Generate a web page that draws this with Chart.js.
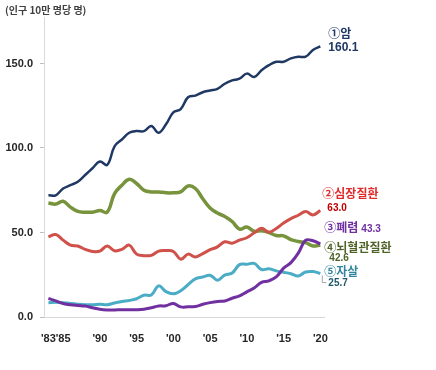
<!DOCTYPE html>
<html>
<head>
<meta charset="utf-8">
<script src="https://cdn.jsdelivr.net/npm/chart.js@4"></script>
<style>
  html, body { margin: 0; padding: 0; background: #fff; }
  #wrap { position: relative; width: 436px; height: 370px; }
  #unit { position: absolute; left: 5px; top: 2px; font: bold 10px "Noto Sans CJK KR", sans-serif; color: #404040; }
</style>
</head>
<body>
<div id="wrap">
  <canvas id="chart" width="436" height="370"></canvas>
  <div id="unit">(인구 10만 명당 명)</div>
</div>
<script>
const years = [1983, 1984, 1985, 1986, 1987, 1988, 1989, 1990, 1991, 1992,
  1993, 1994, 1995, 1996, 1997, 1998, 1999, 2000, 2001, 2002,
  2003, 2004, 2005, 2006, 2007, 2008, 2009, 2010, 2011, 2012,
  2013, 2014, 2015, 2016, 2017, 2018, 2019, 2020];

const cancer = [72, 72, 76, 78, 80, 84, 88, 92, 90, 101,
  105, 109, 110, 110, 113, 109, 114, 121, 123, 130,
  131, 133, 134, 135, 138, 140, 141, 144, 142, 146,
  149, 151, 151, 153, 154, 154, 158, 160.1];

const heart = [47.5, 48.8, 45.5, 42.5, 42, 40, 38.8, 39, 42, 39.2,
  40, 42.5, 37.2, 36.3, 36.5, 39, 39.3, 38.8, 34.2, 37.2,
  35.5, 37.5, 39.8, 41.5, 44.5, 43.7, 45.5, 46.9, 49.8, 52.5,
  50.2, 52.4, 55.6, 58.2, 60.2, 62.4, 60.4, 63.0];

const pneumonia = [11, 9.5, 8, 7.2, 6.8, 6.5, 5.5, 4.6, 4.2, 4.2,
  4.3, 4.3, 4.3, 4.6, 5.5, 6.5, 6.7, 8.0, 6.0, 6.0,
  6.2, 7.5, 8.5, 9.2, 9.5, 11.1, 12.5, 14.9, 17.2, 20.5,
  21.4, 23.7, 28.9, 32.2, 37.8, 45.4, 45.1, 43.3];

const stroke = [67.5, 66.8, 68.5, 65, 62.5, 62, 62, 63, 62, 73,
  78, 81.5, 79, 75, 74, 74, 73.5, 73.5, 74, 77.5,
  76, 70, 64.5, 61.5, 59.5, 56.5, 52, 53.2, 50.7, 51,
  50, 48.2, 48, 45.8, 44.7, 44, 42, 42.6];

const suicide = [8.5, 8.7, 8.5, 8, 7.6, 7.3, 7.2, 7.6, 7.3, 8.3,
  9.2, 9.8, 10.8, 12.9, 13, 18.4, 15, 13.7, 15.5, 19.1,
  22.6, 23.7, 24.7, 21.8, 24.8, 26.0, 31.0, 31.2, 31.7, 28.1,
  28.5, 27.3, 26.5, 25.6, 24.3, 26.6, 26.9, 25.7];

const xTickYears = [1983, 1985, 1990, 1995, 2000, 2005, 2010, 2015, 2020];
const xTickLabels = ["'83", "'85", "'90", "'95", "'00", "'05", "'10", "'15", "'20"];
const yTickValues = [0, 50, 100, 150];

const names = ['①암', '②심장질환', '③폐렴', '④뇌혈관질환', '⑤자살'];
const lastValues = ['160.1', '63.0', '43.3', '42.6', '25.7'];

function pts(arr) {
  return arr.map((v, i) => ({ x: years[i], y: v }));
}

function line(data, color, width) {
  return { data: pts(data), borderColor: color, borderWidth: width, pointRadius: 0, tension: 0.4, fill: false };
}

// end labels, offsets from the last point of each series
const endLabels = [
  { ds: 0, text: names[0], dx: 8, dy: -13, color: '#1f3864', font: 'bold 12px "Noto Sans CJK KR", sans-serif' },
  { ds: 0, text: lastValues[0], dx: 8, dy: 1, color: '#1f3864', font: 'bold 12px "Liberation Sans", sans-serif' },
  { ds: 1, text: names[1], dx: 2, dy: -17, color: '#e02b2b', font: 'bold 12px "Noto Sans CJK KR", sans-serif' },
  { ds: 1, text: lastValues[1], dx: 7, dy: -2, color: '#c00000', font: 'bold 10px "Liberation Sans", sans-serif' },
  { ds: 2, text: names[2], dx: 4, dy: -16, color: '#7030a0', font: 'bold 12px "Noto Sans CJK KR", sans-serif' },
  { ds: 2, text: lastValues[2], dx: 41, dy: -15, color: '#7030a0', font: 'bold 10px "Liberation Sans", sans-serif' },
  { ds: 3, text: names[3], dx: 4, dy: 2, color: '#4f6228', font: 'bold 12px "Noto Sans CJK KR", sans-serif' },
  { ds: 3, text: lastValues[3], dx: 9, dy: 13, color: '#4f6228', font: 'bold 10px "Liberation Sans", sans-serif' },
  { ds: 4, text: names[4], dx: 4, dy: -2, color: '#31859c', font: 'bold 12px "Noto Sans CJK KR", sans-serif' },
  { ds: 4, text: lastValues[4], dx: 8, dy: 10, color: '#215968', font: 'bold 10px "Liberation Sans", sans-serif' }
];

const endLabelPlugin = {
  id: 'endLabels',
  afterDatasetsDraw(chart) {
    const ctx = chart.ctx;
    ctx.save();
    // small leader for the suicide value
    const sm = chart.getDatasetMeta(4);
    const sp = sm.data[sm.data.length - 1];
    ctx.strokeStyle = '#a6a6a6';
    ctx.lineWidth = 1;
    ctx.beginPath();
    ctx.moveTo(sp.x + 2, sp.y + 2);
    ctx.lineTo(sp.x + 2, sp.y + 9);
    ctx.lineTo(sp.x + 6, sp.y + 9);
    ctx.stroke();

    ctx.textAlign = 'left';
    ctx.textBaseline = 'middle';
    endLabels.forEach(l => {
      const meta = chart.getDatasetMeta(l.ds);
      const p = meta.data[meta.data.length - 1];
      ctx.font = l.font;
      ctx.fillStyle = l.color;
      ctx.fillText(l.text, p.x + l.dx, p.y + l.dy);
    });
    ctx.restore();
  }
};

new Chart(document.getElementById('chart'), {
  type: 'line',
  data: {
    datasets: [
      line(cancer, '#203864', 2.5),
      line(heart, '#d0504a', 3),
      line(pneumonia, '#7030a0', 3),
      line(stroke, '#77933c', 3.5),
      line(suicide, '#4bacc6', 3)
    ]
  },
  options: {
    responsive: false,
    animation: false,
    layout: { padding: { top: 17, right: 112, left: 0, bottom: 0 } },
    plugins: { legend: { display: false }, tooltip: { enabled: false } },
    scales: {
      x: {
        type: 'linear',
        min: 1982.4,
        max: 2020.5,
        afterBuildTicks: s => { s.ticks = xTickYears.map(v => ({ value: v })); },
        afterFit: s => { s.height = 53; },
        grid: { display: false },
        border: { color: '#d9d9d9', width: 1 },
        ticks: {
          autoSkip: false,
          maxRotation: 0,
          padding: 7,
          color: '#262626',
          font: { family: '"Liberation Sans", sans-serif', size: 11, weight: 'bold' },
          callback: v => xTickLabels[xTickYears.indexOf(v)]
        }
      },
      y: {
        min: 0,
        max: 177.5,
        afterBuildTicks: s => { s.ticks = yTickValues.map(v => ({ value: v })); },
        afterFit: s => { s.width = 44; },
        grid: { drawOnChartArea: false, drawTicks: true, tickLength: 4, color: '#bfbfbf' },
        border: { color: '#d9d9d9', width: 1 },
        ticks: {
          padding: 7,
          color: '#262626',
          font: { family: '"Liberation Sans", sans-serif', size: 11, weight: 'bold' },
          callback: v => v.toFixed(1)
        }
      }
    }
  },
  plugins: [endLabelPlugin]
});
</script>
</body>
</html>
